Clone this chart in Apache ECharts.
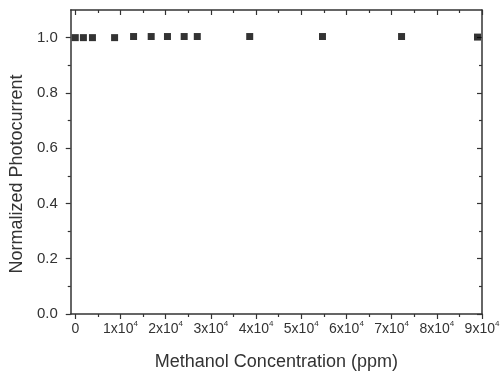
<!DOCTYPE html>
<html>
<head>
<meta charset="utf-8">
<script src="https://cdn.jsdelivr.net/npm/echarts@6/dist/echarts.min.js"></script>
<style>
  html, body { margin: 0; padding: 0; background: #fff; }
  #chart { width: 503px; height: 381px; }
</style>
</head>
<body>
<div id="chart"></div>
<script>
// data
const concentration = [0, 1800, 3800, 8700, 12900, 16800, 20400, 24100, 27000, 38600, 54700, 72200, 89000];
const photocurrent = [1.0, 1.0, 1.0, 1.0, 1.004, 1.004, 1.004, 1.004, 1.004, 1.004, 1.004, 1.004, 1.002];

const xMajor = [0, 10000, 20000, 30000, 40000, 50000, 60000, 70000, 80000, 90000];
const xMinor = [5000, 15000, 25000, 35000, 45000, 55000, 65000, 75000, 85000];
const yMajor = [0, 0.2, 0.4, 0.6, 0.8, 1.0];
const yMinor = [0.1, 0.3, 0.5, 0.7, 0.9];

const font = 'Liberation Sans, Arial, sans-serif';
const lineColor = '#333';

// one axis layer: line / ticks / labels are switched on per layer
function axis(type, pos, ticks, len, inside, withLine, withLabel) {
  const a = {
    type: 'value',
    position: pos,
    min: type === 'x' ? -1000 : 0,
    max: type === 'x' ? 90000 : 1.1,
    splitLine: { show: false },
    axisLine: { show: withLine, onZero: false, lineStyle: { color: lineColor, width: 1.5 } },
    axisTick: { show: true, inside: inside, length: len, customValues: ticks,
                lineStyle: { color: lineColor, width: 1.2 } },
    axisLabel: { show: false }
  };
  if (withLabel) {
    a.axisLabel = {
      show: true,
      customValues: ticks,
      fontFamily: font,
      fontSize: 15,
      color: '#333'
    };
  }
  return a;
}

const chart = echarts.init(document.getElementById('chart'));

const xMain = axis('x', 'bottom', xMajor, 5, false, true, true);
xMain.axisLabel.margin = 6;
xMain.axisLabel.formatter = function (v) {
  if (v === 0) return '{b|0}';
  return '{b|' + (v / 10000) + 'x10}{s|4}';
};
xMain.axisLabel.rich = {
  b: { fontFamily: font, fontSize: 14, color: '#333', lineHeight: 16, verticalAlign: 'bottom' },
  s: { fontFamily: font, fontSize: 8, color: '#333', lineHeight: 9, verticalAlign: 'top' }
};
xMain.name = 'Methanol Concentration (ppm)';
xMain.nameLocation = 'middle';
xMain.nameGap = 39;
xMain.nameTextStyle = { fontFamily: font, fontSize: 18, color: '#333' };

const yMain = axis('y', 'left', yMajor, 5, false, true, true);
yMain.axisLabel.margin = 13;
yMain.axisLabel.formatter = function (v) { return v.toFixed(1); };
yMain.name = 'Normalized Photocurrent';
yMain.nameLocation = 'middle';
yMain.nameGap = 38;
yMain.nameTextStyle = { fontFamily: font, fontSize: 18, color: '#333', padding: [0, 24, 0, 0] };

chart.setOption({
  animation: false,
  grid: { left: 69, right: 21, top: 10, bottom: 67 },
  xAxis: [
    xMain,
    axis('x', 'bottom', xMinor, 3, false, false, false),
    axis('x', 'top', xMajor, 5, true, true, false),
    axis('x', 'top', xMinor, 3, true, false, false)
  ],
  yAxis: [
    yMain,
    axis('y', 'left', yMinor, 3, false, false, false),
    axis('y', 'right', yMajor, 5, true, true, false),
    axis('y', 'right', yMinor, 3, true, false, false)
  ],
  series: [{
    type: 'scatter',
    symbol: 'rect',
    symbolSize: 7,
    itemStyle: { color: '#000' },
    data: concentration.map((c, i) => [c, photocurrent[i]])
  }]
});
</script>
</body>
</html>
